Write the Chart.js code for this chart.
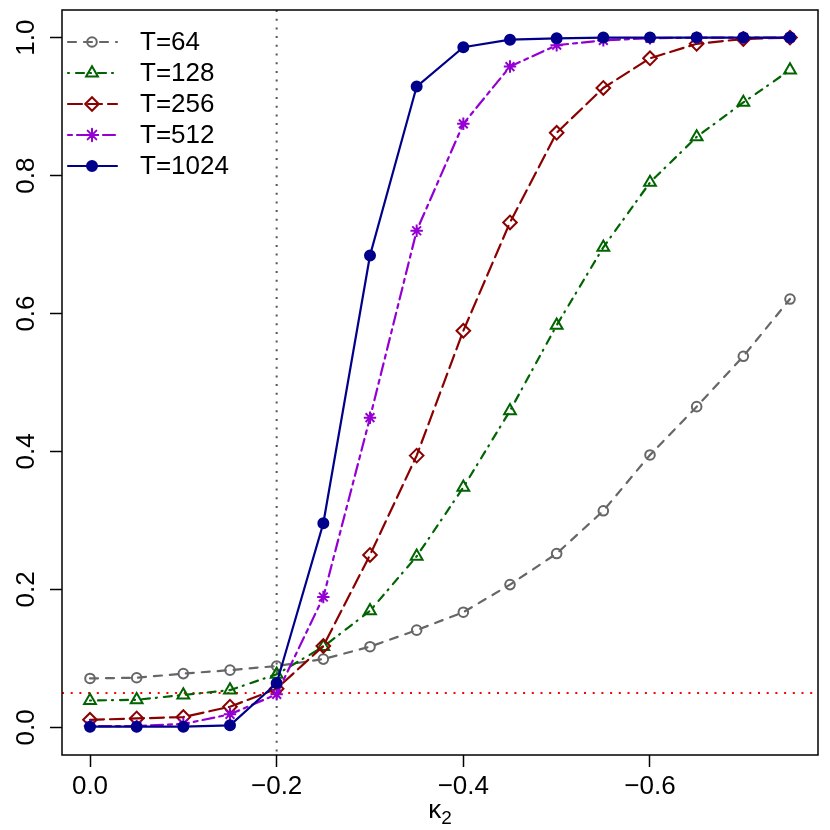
<!DOCTYPE html>
<html>
<head>
<meta charset="utf-8">
<script src="https://cdn.jsdelivr.net/npm/chart.js@4/dist/chart.umd.min.js"></script>
<style>
  body { margin: 0; background: #fff; }
  #chart { display: block; }
</style>
</head>
<body>
<canvas id="chart" width="830" height="830"></canvas>
<script>
// data
const kappa = [0, -0.05, -0.10, -0.15, -0.20, -0.25, -0.30, -0.35, -0.40, -0.45, -0.50, -0.55, -0.60, -0.65, -0.70, -0.75];
const seriesLabels = ['T=64', 'T=128', 'T=256', 'T=512', 'T=1024'];
const t64   = [0.071, 0.072, 0.078, 0.083, 0.089, 0.099, 0.117, 0.141, 0.167, 0.207, 0.252, 0.314, 0.395, 0.465, 0.538, 0.621];
const t128  = [0.039, 0.040, 0.047, 0.054, 0.077, 0.117, 0.169, 0.248, 0.348, 0.459, 0.583, 0.696, 0.790, 0.856, 0.906, 0.953];
const t256  = [0.011, 0.013, 0.015, 0.030, 0.056, 0.118, 0.250, 0.394, 0.575, 0.732, 0.862, 0.927, 0.970, 0.991, 0.998, 1.000];
const t512  = [0.002, 0.002, 0.005, 0.019, 0.048, 0.189, 0.449, 0.720, 0.875, 0.958, 0.989, 0.996, 0.999, 1.000, 1.000, 1.000];
const t1024 = [0.001, 0.001, 0.001, 0.003, 0.064, 0.296, 0.684, 0.929, 0.986, 0.997, 0.999, 1.000, 1.000, 1.000, 1.000, 1.000];
const xTicks = [0, -0.2, -0.4, -0.6];
const yTicks = [0, 0.2, 0.4, 0.6, 0.8, 1.0];
const vLine = -0.2;
const hLine = 0.05;

const FONT = "'Liberation Sans', Arial, sans-serif";

// look of each series (R style: lty / pch)
const styles = [
    { color: '#666666', dash: [8, 8],        point: 'circle',   radius: 4.8, fill: 'rgba(0,0,0,0)' },
    { color: '#006400', dash: [1, 7, 8, 6],  point: 'triangle', radius: 6.8, fill: 'rgba(0,0,0,0)' },
    { color: '#8B0000', dash: [14, 6],       point: 'rectRot',  radius: 6.8, fill: 'rgba(0,0,0,0)' },
    { color: '#9400D3', dash: [4, 5, 12, 5], point: 'star',     radius: 6.2, fill: 'rgba(0,0,0,0)' },
    { color: '#00008B', dash: [],            point: 'circle',   radius: 5.0, fill: '#00008B' }
];
const seriesValues = [t64, t128, t256, t512, t1024];

function fmt(v) {
    return v.toFixed(1).replace('-', '\u2212');
}

const datasets = seriesValues.map(function(vals, i) {
    const s = styles[i];
    return {
        label: seriesLabels[i],
        data: vals.map((y, j) => ({ x: kappa[j], y: y })),
        borderColor: s.color,
        borderWidth: 2.2,
        borderDash: s.dash,
        borderCapStyle: 'round',
        tension: 0,
        pointStyle: s.point,
        pointRadius: s.radius,
        pointBorderWidth: 2,
        pointBorderColor: s.color,
        pointBackgroundColor: s.fill,
        order: seriesValues.length - i
    };
});

// reference lines, box, legend and axis title
const decorations = {
    id: 'decorations',
    beforeDatasetsDraw(chart) {
        const ctx = chart.ctx;
        const a = chart.chartArea;
        const xs = chart.scales.x, ys = chart.scales.y;
        ctx.save();
        ctx.lineWidth = 2;
        ctx.lineCap = 'butt';
        ctx.setLineDash([2, 6.7]);
        ctx.strokeStyle = '#555555';
        const vx = xs.getPixelForValue(vLine);
        ctx.beginPath();
        ctx.moveTo(vx, a.top);
        ctx.lineTo(vx, a.bottom);
        ctx.stroke();
        ctx.strokeStyle = '#ff0000';
        const hy = ys.getPixelForValue(hLine);
        ctx.beginPath();
        ctx.moveTo(a.left, hy);
        ctx.lineTo(a.right, hy);
        ctx.stroke();
        ctx.restore();
    },
    afterDraw(chart) {
        const ctx = chart.ctx;
        const a = chart.chartArea;
        ctx.save();
        // box
        ctx.setLineDash([]);
        ctx.lineWidth = 1.5;
        ctx.strokeStyle = '#000';
        ctx.strokeRect(a.left, a.top, a.right - a.left, a.bottom - a.top);

        // legend
        ctx.font = '26px ' + FONT;
        ctx.textBaseline = 'middle';
        ctx.textAlign = 'left';
        chart.data.datasets.forEach(function(ds, i) {
            const s = styles[i];
            const y = a.top + 32 + i * 31;
            ctx.strokeStyle = s.color;
            ctx.lineWidth = 2.2;
            ctx.lineCap = 'round';
            ctx.setLineDash(s.dash);
            ctx.beginPath();
            ctx.moveTo(a.left + 6, y);
            ctx.lineTo(a.left + 55, y);
            ctx.stroke();
            ctx.setLineDash([]);
            ctx.lineWidth = 2;
            ctx.fillStyle = s.fill;
            Chart.helpers.drawPoint(ctx, {
                pointStyle: s.point, radius: s.radius, rotation: 0, borderWidth: 2
            }, a.left + 30, y);
            ctx.fillStyle = '#000';
            ctx.fillText(ds.label, a.left + 78, y + 1);
        });

        // x axis title: kappa with subscript 2
        const cx = (a.left + a.right) / 2;
        ctx.fillStyle = '#000';
        ctx.textBaseline = 'alphabetic';
        ctx.font = '26px ' + FONT;
        const kw = ctx.measureText('\u03ba').width;
        ctx.font = '19px ' + FONT;
        const sw = ctx.measureText('2').width;
        const x0 = cx - (kw + sw) / 2;
        ctx.font = '26px ' + FONT;
        ctx.fillText('\u03ba', x0, 818);
        ctx.font = '19px ' + FONT;
        ctx.fillText('2', x0 + kw, 824);
        ctx.restore();
    }
};

new Chart(document.getElementById('chart').getContext('2d'), {
    type: 'line',
    data: { datasets: datasets },
    options: {
        responsive: false,
        animation: false,
        layout: { padding: { top: 10, right: 12, left: 0, bottom: 0 } },
        plugins: {
            legend: { display: false },
            tooltip: { enabled: false }
        },
        scales: {
            x: {
                type: 'linear',
                reverse: true,
                min: -0.78,
                max: 0.03,
                afterBuildTicks: scale => { scale.ticks = xTicks.map(v => ({ value: v })); },
                afterFit: scale => {
                    scale.height = 75;
                    scale.paddingLeft = 0;
                    scale.paddingRight = 0;
                },
                border: { display: false },
                grid: {
                    drawOnChartArea: false,
                    drawTicks: true,
                    tickLength: 12,
                    tickColor: '#000',
                    tickWidth: 1.5
                },
                ticks: {
                    color: '#000',
                    padding: 4,
                    maxRotation: 0,
                    font: { family: FONT, size: 26 },
                    callback: v => fmt(v)
                }
            },
            y: {
                type: 'linear',
                min: -0.04,
                max: 1.04,
                afterBuildTicks: scale => { scale.ticks = yTicks.map(v => ({ value: v })); },
                afterFit: scale => {
                    scale.width = 62;
                    scale.paddingTop = 0;
                    scale.paddingBottom = 0;
                },
                border: { display: false },
                grid: {
                    drawOnChartArea: false,
                    drawTicks: true,
                    tickLength: 12,
                    tickColor: '#000',
                    tickWidth: 1.5
                },
                ticks: {
                    color: '#000',
                    padding: 5,
                    minRotation: 90,
                    maxRotation: 90,
                    crossAlign: 'center',
                    font: { family: FONT, size: 26 },
                    callback: v => fmt(v)
                }
            }
        }
    },
    plugins: [decorations]
});
</script>
</body>
</html>
